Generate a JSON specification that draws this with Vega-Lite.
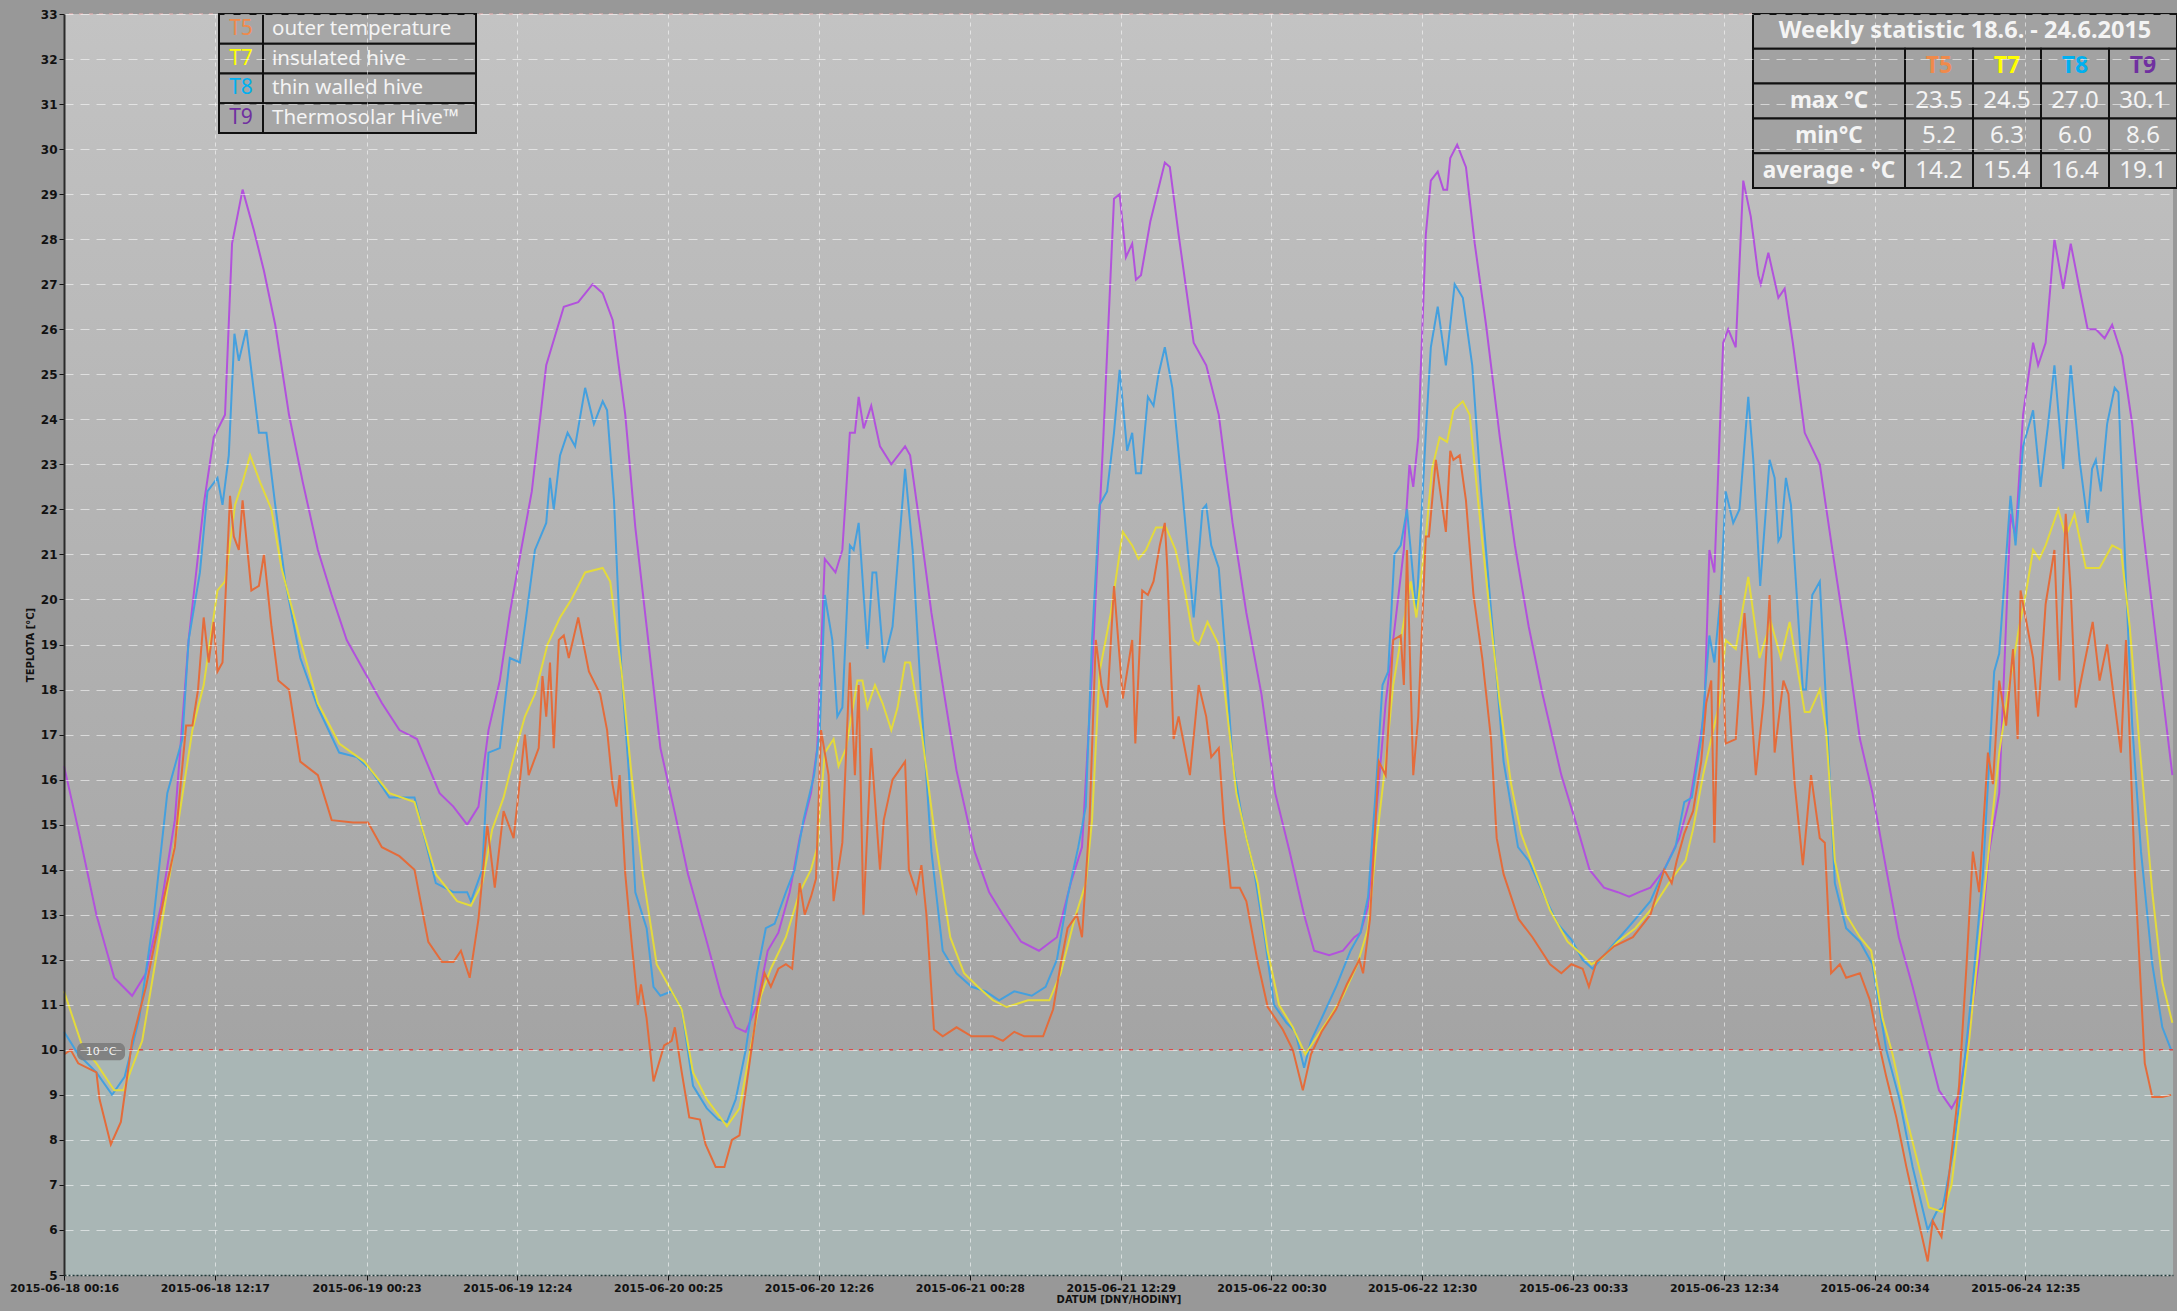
{
  "$schema": "https://vega.github.io/schema/vega-lite/v6.json",
  "width": 2109,
  "height": 1261,
  "autosize": {"type": "none"},
  "padding": {"left": 64, "top": 14, "right": 4, "bottom": 36},
  "background": "#989898",
  "config": {
    "view": {"stroke": null},
    "font": "DejaVu Sans",
    "axis": {
      "labelFont": "DejaVu Sans",
      "labelFontWeight": "bold",
      "labelColor": "#111111",
      "titleFont": "DejaVu Sans",
      "titleFontWeight": "bold",
      "titleColor": "#111111",
      "tickColor": "#111111",
      "domainColor": "#2a2a2a"
    }
  },
  "datasets": {
    "series": [
      {"code": "T5", "name": "outer temperature"},
      {"code": "T7", "name": "insulated hive"},
      {"code": "T8", "name": "thin walled hive"},
      {"code": "T9", "name": "Thermosolar Hive™"}
    ],
    "stats": [
      {"stat": "max °C", "T5": 23.5, "T7": 24.5, "T8": 27.0, "T9": 30.1},
      {"stat": "min°C", "T5": 5.2, "T7": 6.3, "T8": 6.0, "T9": 8.6},
      {"stat": "average · °C", "T5": 14.2, "T7": 15.4, "T8": 16.4, "T9": 19.1}
    ],
    "temps": [
      {"s":"T9","h":0.27,"v":16.3},{"s":"T9","h":1.4,"v":14.9},{"s":"T9","h":2.85,"v":13.0},{"s":"T9","h":4.27,"v":11.6},{"s":"T9","h":5.7,"v":11.2},{"s":"T9","h":6.8,"v":11.7},{"s":"T9","h":8.0,"v":13.2},{"s":"T9","h":9.1,"v":15.1},{"s":"T9","h":10.2,"v":19.1},{"s":"T9","h":11.4,"v":22.1},{"s":"T9","h":12.2,"v":23.6},{"s":"T9","h":13.1,"v":24.1},{"s":"T9","h":13.66,"v":27.9},{"s":"T9","h":14.5,"v":29.1},{"s":"T9","h":15.4,"v":28.2},{"s":"T9","h":16.2,"v":27.3},{"s":"T9","h":17.1,"v":26.1},{"s":"T9","h":18.2,"v":24.1},{"s":"T9","h":19.3,"v":22.6},{"s":"T9","h":20.5,"v":21.1},{"s":"T9","h":21.6,"v":20.1},{"s":"T9","h":22.8,"v":19.1},{"s":"T9","h":24.2,"v":18.4},{"s":"T9","h":25.6,"v":17.7},{"s":"T9","h":27.0,"v":17.1},{"s":"T9","h":28.4,"v":16.9},{"s":"T9","h":30.2,"v":15.7},{"s":"T9","h":31.3,"v":15.4},{"s":"T9","h":32.4,"v":15.0},{"s":"T9","h":33.3,"v":15.4},{"s":"T9","h":34.1,"v":17.1},{"s":"T9","h":35.0,"v":18.2},{"s":"T9","h":35.8,"v":19.7},{"s":"T9","h":36.7,"v":21.1},{"s":"T9","h":37.55,"v":22.4},{"s":"T9","h":38.7,"v":25.2},{"s":"T9","h":40.1,"v":26.5},{"s":"T9","h":41.25,"v":26.6},{"s":"T9","h":42.4,"v":27.0},{"s":"T9","h":43.2,"v":26.8},{"s":"T9","h":44.0,"v":26.2},{"s":"T9","h":45.0,"v":24.1},{"s":"T9","h":45.8,"v":21.6},{"s":"T9","h":46.7,"v":19.4},{"s":"T9","h":47.8,"v":16.7},{"s":"T9","h":49.0,"v":15.2},{"s":"T9","h":50.0,"v":13.9},{"s":"T9","h":50.7,"v":13.2},{"s":"T9","h":51.5,"v":12.4},{"s":"T9","h":52.65,"v":11.2},{"s":"T9","h":53.8,"v":10.5},{"s":"T9","h":54.6,"v":10.4},{"s":"T9","h":55.5,"v":11.0},{"s":"T9","h":56.35,"v":12.2},{"s":"T9","h":57.2,"v":12.6},{"s":"T9","h":58.1,"v":13.5},{"s":"T9","h":58.9,"v":14.7},{"s":"T9","h":59.8,"v":15.7},{"s":"T9","h":60.3,"v":16.7},{"s":"T9","h":60.9,"v":20.9},{"s":"T9","h":61.75,"v":20.6},{"s":"T9","h":62.3,"v":21.1},{"s":"T9","h":62.9,"v":23.7},{"s":"T9","h":63.3,"v":23.7},{"s":"T9","h":63.6,"v":24.5},{"s":"T9","h":64.0,"v":23.8},{"s":"T9","h":64.6,"v":24.3},{"s":"T9","h":65.3,"v":23.4},{"s":"T9","h":66.2,"v":23.0},{"s":"T9","h":67.3,"v":23.4},{"s":"T9","h":67.7,"v":23.2},{"s":"T9","h":68.6,"v":21.4},{"s":"T9","h":69.4,"v":19.7},{"s":"T9","h":70.3,"v":18.1},{"s":"T9","h":71.4,"v":16.2},{"s":"T9","h":72.85,"v":14.4},{"s":"T9","h":74.0,"v":13.5},{"s":"T9","h":75.1,"v":13.0},{"s":"T9","h":76.55,"v":12.4},{"s":"T9","h":77.97,"v":12.2},{"s":"T9","h":79.4,"v":12.5},{"s":"T9","h":80.5,"v":13.7},{"s":"T9","h":81.4,"v":14.5},{"s":"T9","h":82.2,"v":18.4},{"s":"T9","h":83.1,"v":23.6},{"s":"T9","h":83.95,"v":28.9},{"s":"T9","h":84.4,"v":29.0},{"s":"T9","h":84.9,"v":27.6},{"s":"T9","h":85.4,"v":27.9},{"s":"T9","h":85.7,"v":27.1},{"s":"T9","h":86.1,"v":27.2},{"s":"T9","h":86.85,"v":28.4},{"s":"T9","h":88.0,"v":29.7},{"s":"T9","h":88.4,"v":29.6},{"s":"T9","h":89.1,"v":28.1},{"s":"T9","h":90.3,"v":25.7},{"s":"T9","h":91.3,"v":25.2},{"s":"T9","h":92.3,"v":24.1},{"s":"T9","h":93.4,"v":21.7},{"s":"T9","h":94.5,"v":19.7},{"s":"T9","h":95.7,"v":17.9},{"s":"T9","h":96.8,"v":15.7},{"s":"T9","h":97.95,"v":14.4},{"s":"T9","h":99.1,"v":13.0},{"s":"T9","h":99.9,"v":12.2},{"s":"T9","h":101.1,"v":12.1},{"s":"T9","h":102.2,"v":12.2},{"s":"T9","h":103.1,"v":12.5},{"s":"T9","h":103.6,"v":12.6},{"s":"T9","h":104.2,"v":13.2},{"s":"T9","h":104.8,"v":15.1},{"s":"T9","h":105.6,"v":17.7},{"s":"T9","h":106.2,"v":19.1},{"s":"T9","h":107.05,"v":21.1},{"s":"T9","h":107.5,"v":23.0},{"s":"T9","h":107.8,"v":22.5},{"s":"T9","h":108.2,"v":23.6},{"s":"T9","h":108.8,"v":28.1},{"s":"T9","h":109.2,"v":29.3},{"s":"T9","h":109.75,"v":29.5},{"s":"T9","h":110.2,"v":29.1},{"s":"T9","h":110.5,"v":29.1},{"s":"T9","h":110.75,"v":29.8},{"s":"T9","h":111.3,"v":30.1},{"s":"T9","h":112.0,"v":29.6},{"s":"T9","h":112.7,"v":27.9},{"s":"T9","h":113.6,"v":26.1},{"s":"T9","h":114.7,"v":23.6},{"s":"T9","h":115.9,"v":21.2},{"s":"T9","h":117.0,"v":19.4},{"s":"T9","h":118.1,"v":17.9},{"s":"T9","h":119.6,"v":16.1},{"s":"T9","h":120.7,"v":15.1},{"s":"T9","h":121.85,"v":14.0},{"s":"T9","h":123.0,"v":13.6},{"s":"T9","h":124.1,"v":13.5},{"s":"T9","h":125.0,"v":13.4},{"s":"T9","h":125.8,"v":13.5},{"s":"T9","h":126.7,"v":13.6},{"s":"T9","h":127.8,"v":14.0},{"s":"T9","h":129.0,"v":14.7},{"s":"T9","h":129.9,"v":15.6},{"s":"T9","h":130.6,"v":16.8},{"s":"T9","h":131.0,"v":17.5},{"s":"T9","h":131.4,"v":21.1},{"s":"T9","h":131.8,"v":20.6},{"s":"T9","h":132.5,"v":25.7},{"s":"T9","h":132.9,"v":26.0},{"s":"T9","h":133.5,"v":25.6},{"s":"T9","h":134.1,"v":29.3},{"s":"T9","h":134.7,"v":28.5},{"s":"T9","h":135.3,"v":27.2},{"s":"T9","h":135.5,"v":27.0},{"s":"T9","h":136.1,"v":27.7},{"s":"T9","h":136.9,"v":26.7},{"s":"T9","h":137.4,"v":26.9},{"s":"T9","h":138.05,"v":25.7},{"s":"T9","h":139.0,"v":23.7},{"s":"T9","h":140.2,"v":23.0},{"s":"T9","h":141.2,"v":21.1},{"s":"T9","h":142.3,"v":19.1},{"s":"T9","h":143.4,"v":16.9},{"s":"T9","h":144.4,"v":15.7},{"s":"T9","h":145.5,"v":14.0},{"s":"T9","h":146.5,"v":12.5},{"s":"T9","h":147.6,"v":11.4},{"s":"T9","h":148.7,"v":10.2},{"s":"T9","h":149.7,"v":9.1},{"s":"T9","h":150.7,"v":8.7},{"s":"T9","h":151.3,"v":9.0},{"s":"T9","h":152.1,"v":10.4},{"s":"T9","h":152.9,"v":12.0},{"s":"T9","h":153.7,"v":14.4},{"s":"T9","h":154.5,"v":15.7},{"s":"T9","h":155.4,"v":21.9},{"s":"T9","h":155.8,"v":21.4},{"s":"T9","h":156.4,"v":24.1},{"s":"T9","h":157.2,"v":25.7},{"s":"T9","h":157.6,"v":25.2},{"s":"T9","h":158.2,"v":25.7},{"s":"T9","h":158.9,"v":28.0},{"s":"T9","h":159.6,"v":26.9},{"s":"T9","h":160.2,"v":27.9},{"s":"T9","h":160.9,"v":26.9},{"s":"T9","h":161.55,"v":26.0},{"s":"T9","h":162.2,"v":26.0},{"s":"T9","h":162.9,"v":25.8},{"s":"T9","h":163.5,"v":26.1},{"s":"T9","h":164.3,"v":25.4},{"s":"T9","h":165.1,"v":23.9},{"s":"T9","h":165.9,"v":21.7},{"s":"T9","h":167.0,"v":19.1},{"s":"T9","h":168.3,"v":16.1},

      {"s":"T8","h":0.27,"v":10.4},{"s":"T8","h":1.4,"v":9.9},{"s":"T8","h":2.85,"v":9.5},{"s":"T8","h":4.1,"v":9.0},{"s":"T8","h":5.1,"v":9.4},{"s":"T8","h":6.26,"v":10.7},{"s":"T8","h":7.4,"v":12.9},{"s":"T8","h":8.5,"v":15.7},{"s":"T8","h":9.7,"v":16.9},{"s":"T8","h":10.2,"v":19.1},{"s":"T8","h":11.1,"v":20.6},{"s":"T8","h":11.7,"v":22.4},{"s":"T8","h":12.5,"v":22.7},{"s":"T8","h":12.9,"v":22.1},{"s":"T8","h":13.4,"v":23.2},{"s":"T8","h":13.85,"v":25.9},{"s":"T8","h":14.2,"v":25.3},{"s":"T8","h":14.8,"v":26.0},{"s":"T8","h":15.8,"v":23.7},{"s":"T8","h":16.4,"v":23.7},{"s":"T8","h":17.1,"v":22.1},{"s":"T8","h":17.9,"v":20.4},{"s":"T8","h":19.1,"v":18.7},{"s":"T8","h":20.5,"v":17.6},{"s":"T8","h":22.2,"v":16.6},{"s":"T8","h":23.6,"v":16.5},{"s":"T8","h":24.75,"v":16.2},{"s":"T8","h":26.2,"v":15.6},{"s":"T8","h":28.2,"v":15.6},{"s":"T8","h":29.9,"v":13.7},{"s":"T8","h":31.3,"v":13.5},{"s":"T8","h":32.4,"v":13.5},{"s":"T8","h":32.7,"v":13.3},{"s":"T8","h":33.6,"v":14.0},{"s":"T8","h":34.1,"v":16.6},{"s":"T8","h":35.0,"v":16.7},{"s":"T8","h":35.8,"v":18.7},{"s":"T8","h":36.6,"v":18.6},{"s":"T8","h":37.0,"v":19.4},{"s":"T8","h":37.8,"v":21.1},{"s":"T8","h":38.7,"v":21.7},{"s":"T8","h":39.0,"v":22.7},{"s":"T8","h":39.3,"v":22.0},{"s":"T8","h":39.8,"v":23.2},{"s":"T8","h":40.4,"v":23.7},{"s":"T8","h":41.0,"v":23.4},{"s":"T8","h":41.8,"v":24.7},{"s":"T8","h":42.5,"v":23.9},{"s":"T8","h":43.2,"v":24.4},{"s":"T8","h":43.55,"v":24.2},{"s":"T8","h":44.1,"v":22.2},{"s":"T8","h":44.7,"v":18.4},{"s":"T8","h":45.3,"v":16.1},{"s":"T8","h":45.8,"v":13.5},{"s":"T8","h":46.7,"v":12.7},{"s":"T8","h":47.25,"v":11.4},{"s":"T8","h":47.8,"v":11.2},{"s":"T8","h":48.7,"v":11.3},{"s":"T8","h":49.5,"v":10.9},{"s":"T8","h":50.4,"v":9.2},{"s":"T8","h":51.5,"v":8.7},{"s":"T8","h":52.4,"v":8.45},{"s":"T8","h":53.1,"v":8.4},{"s":"T8","h":53.8,"v":8.9},{"s":"T8","h":54.6,"v":10.0},{"s":"T8","h":55.5,"v":11.7},{"s":"T8","h":56.2,"v":12.7},{"s":"T8","h":56.9,"v":12.8},{"s":"T8","h":57.8,"v":13.5},{"s":"T8","h":58.5,"v":14.0},{"s":"T8","h":59.2,"v":15.1},{"s":"T8","h":60.05,"v":16.1},{"s":"T8","h":60.5,"v":17.1},{"s":"T8","h":60.9,"v":20.1},{"s":"T8","h":61.5,"v":19.1},{"s":"T8","h":61.9,"v":17.4},{"s":"T8","h":62.3,"v":17.6},{"s":"T8","h":62.9,"v":21.2},{"s":"T8","h":63.2,"v":21.1},{"s":"T8","h":63.6,"v":21.7},{"s":"T8","h":64.3,"v":18.9},{"s":"T8","h":64.7,"v":20.6},{"s":"T8","h":65.0,"v":20.6},{"s":"T8","h":65.6,"v":18.6},{"s":"T8","h":66.3,"v":19.4},{"s":"T8","h":67.3,"v":22.9},{"s":"T8","h":67.9,"v":21.1},{"s":"T8","h":68.6,"v":17.7},{"s":"T8","h":69.4,"v":14.4},{"s":"T8","h":70.3,"v":12.2},{"s":"T8","h":71.4,"v":11.7},{"s":"T8","h":72.6,"v":11.4},{"s":"T8","h":73.7,"v":11.3},{"s":"T8","h":74.8,"v":11.1},{"s":"T8","h":76.0,"v":11.3},{"s":"T8","h":77.4,"v":11.2},{"s":"T8","h":78.5,"v":11.4},{"s":"T8","h":79.4,"v":12.0},{"s":"T8","h":80.25,"v":13.4},{"s":"T8","h":81.1,"v":14.5},{"s":"T8","h":81.7,"v":15.4},{"s":"T8","h":82.2,"v":19.1},{"s":"T8","h":82.8,"v":22.1},{"s":"T8","h":83.4,"v":22.4},{"s":"T8","h":83.95,"v":23.7},{"s":"T8","h":84.4,"v":25.1},{"s":"T8","h":85.0,"v":23.3},{"s":"T8","h":85.4,"v":23.7},{"s":"T8","h":85.7,"v":22.8},{"s":"T8","h":86.1,"v":22.8},{"s":"T8","h":86.65,"v":24.5},{"s":"T8","h":87.1,"v":24.3},{"s":"T8","h":87.5,"v":25.0},{"s":"T8","h":88.0,"v":25.6},{"s":"T8","h":88.6,"v":24.7},{"s":"T8","h":89.4,"v":22.4},{"s":"T8","h":90.3,"v":19.6},{"s":"T8","h":91.0,"v":22.0},{"s":"T8","h":91.3,"v":22.1},{"s":"T8","h":91.7,"v":21.2},{"s":"T8","h":92.3,"v":20.7},{"s":"T8","h":92.8,"v":18.9},{"s":"T8","h":93.4,"v":16.4},{"s":"T8","h":94.25,"v":15.0},{"s":"T8","h":95.1,"v":14.0},{"s":"T8","h":95.96,"v":12.5},{"s":"T8","h":96.7,"v":11.0},{"s":"T8","h":97.7,"v":10.6},{"s":"T8","h":98.4,"v":10.4},{"s":"T8","h":99.1,"v":9.6},{"s":"T8","h":99.65,"v":10.2},{"s":"T8","h":100.5,"v":10.7},{"s":"T8","h":101.65,"v":11.4},{"s":"T8","h":102.8,"v":12.2},{"s":"T8","h":103.6,"v":12.6},{"s":"T8","h":104.2,"v":13.4},{"s":"T8","h":104.8,"v":15.7},{"s":"T8","h":105.35,"v":18.1},{"s":"T8","h":105.8,"v":18.4},{"s":"T8","h":106.3,"v":21.0},{"s":"T8","h":106.8,"v":21.2},{"s":"T8","h":107.3,"v":22.0},{"s":"T8","h":108.05,"v":19.7},{"s":"T8","h":108.8,"v":23.7},{"s":"T8","h":109.2,"v":25.6},{"s":"T8","h":109.75,"v":26.5},{"s":"T8","h":110.4,"v":25.2},{"s":"T8","h":111.1,"v":27.0},{"s":"T8","h":111.75,"v":26.7},{"s":"T8","h":112.5,"v":25.2},{"s":"T8","h":113.2,"v":22.4},{"s":"T8","h":114.2,"v":19.1},{"s":"T8","h":115.0,"v":16.4},{"s":"T8","h":116.15,"v":14.5},{"s":"T8","h":117.0,"v":14.2},{"s":"T8","h":118.1,"v":13.5},{"s":"T8","h":119.3,"v":12.8},{"s":"T8","h":120.4,"v":12.45},{"s":"T8","h":121.3,"v":12.0},{"s":"T8","h":122.1,"v":11.8},{"s":"T8","h":123.0,"v":12.1},{"s":"T8","h":124.1,"v":12.45},{"s":"T8","h":125.5,"v":12.9},{"s":"T8","h":126.7,"v":13.3},{"s":"T8","h":127.8,"v":14.0},{"s":"T8","h":128.7,"v":14.5},{"s":"T8","h":129.4,"v":15.5},{"s":"T8","h":130.0,"v":15.6},{"s":"T8","h":130.75,"v":16.9},{"s":"T8","h":131.4,"v":19.2},{"s":"T8","h":131.8,"v":18.6},{"s":"T8","h":132.3,"v":20.1},{"s":"T8","h":132.7,"v":22.4},{"s":"T8","h":133.3,"v":21.7},{"s":"T8","h":133.8,"v":22.0},{"s":"T8","h":134.5,"v":24.5},{"s":"T8","h":134.9,"v":23.1},{"s":"T8","h":135.45,"v":20.3},{"s":"T8","h":136.2,"v":23.1},{"s":"T8","h":136.6,"v":22.7},{"s":"T8","h":136.9,"v":21.3},{"s":"T8","h":137.1,"v":21.4},{"s":"T8","h":137.5,"v":22.7},{"s":"T8","h":137.9,"v":22.1},{"s":"T8","h":138.85,"v":18.0},{"s":"T8","h":139.1,"v":18.0},{"s":"T8","h":139.6,"v":20.1},{"s":"T8","h":140.2,"v":20.4},{"s":"T8","h":140.7,"v":17.7},{"s":"T8","h":141.4,"v":13.7},{"s":"T8","h":142.3,"v":12.7},{"s":"T8","h":143.4,"v":12.4},{"s":"T8","h":144.4,"v":11.9},{"s":"T8","h":145.5,"v":10.0},{"s":"T8","h":146.55,"v":8.9},{"s":"T8","h":147.6,"v":7.4},{"s":"T8","h":148.8,"v":6.0},{"s":"T8","h":149.5,"v":6.4},{"s":"T8","h":150.0,"v":6.5},{"s":"T8","h":150.8,"v":7.7},{"s":"T8","h":151.6,"v":9.4},{"s":"T8","h":152.4,"v":11.5},{"s":"T8","h":153.2,"v":13.9},{"s":"T8","h":153.7,"v":16.4},{"s":"T8","h":154.1,"v":18.4},{"s":"T8","h":154.5,"v":18.8},{"s":"T8","h":155.4,"v":22.3},{"s":"T8","h":155.8,"v":21.2},{"s":"T8","h":156.4,"v":23.4},{"s":"T8","h":157.2,"v":24.2},{"s":"T8","h":157.8,"v":22.5},{"s":"T8","h":158.4,"v":23.9},{"s":"T8","h":158.9,"v":25.2},{"s":"T8","h":159.6,"v":22.9},{"s":"T8","h":160.2,"v":25.2},{"s":"T8","h":160.9,"v":23.1},{"s":"T8","h":161.55,"v":21.7},{"s":"T8","h":161.9,"v":22.9},{"s":"T8","h":162.2,"v":23.1},{"s":"T8","h":162.6,"v":22.4},{"s":"T8","h":163.1,"v":23.9},{"s":"T8","h":163.7,"v":24.7},{"s":"T8","h":164.0,"v":24.6},{"s":"T8","h":164.6,"v":20.4},{"s":"T8","h":165.1,"v":17.2},{"s":"T8","h":165.8,"v":14.4},{"s":"T8","h":166.7,"v":11.9},{"s":"T8","h":167.5,"v":10.5},{"s":"T8","h":168.2,"v":10.0},

      {"s":"T7","h":0.27,"v":11.3},{"s":"T7","h":1.7,"v":10.1},{"s":"T7","h":2.85,"v":9.7},{"s":"T7","h":4.27,"v":9.1},{"s":"T7","h":5.0,"v":9.1},{"s":"T7","h":6.5,"v":10.2},{"s":"T7","h":8.0,"v":12.7},{"s":"T7","h":9.4,"v":15.1},{"s":"T7","h":10.5,"v":17.1},{"s":"T7","h":11.4,"v":18.1},{"s":"T7","h":12.5,"v":20.2},{"s":"T7","h":13.1,"v":20.4},{"s":"T7","h":13.9,"v":22.1},{"s":"T7","h":14.5,"v":22.6},{"s":"T7","h":15.1,"v":23.2},{"s":"T7","h":15.9,"v":22.6},{"s":"T7","h":16.8,"v":22.0},{"s":"T7","h":17.6,"v":20.7},{"s":"T7","h":19.1,"v":19.1},{"s":"T7","h":20.5,"v":17.7},{"s":"T7","h":22.2,"v":16.8},{"s":"T7","h":24.2,"v":16.4},{"s":"T7","h":26.2,"v":15.7},{"s":"T7","h":28.2,"v":15.5},{"s":"T7","h":29.9,"v":13.9},{"s":"T7","h":31.6,"v":13.3},{"s":"T7","h":32.7,"v":13.2},{"s":"T7","h":33.6,"v":13.7},{"s":"T7","h":34.4,"v":14.9},{"s":"T7","h":35.3,"v":15.6},{"s":"T7","h":36.3,"v":16.7},{"s":"T7","h":37.0,"v":17.4},{"s":"T7","h":37.8,"v":17.9},{"s":"T7","h":38.8,"v":19.0},{"s":"T7","h":39.8,"v":19.6},{"s":"T7","h":40.7,"v":20.0},{"s":"T7","h":41.8,"v":20.6},{"s":"T7","h":43.2,"v":20.7},{"s":"T7","h":43.8,"v":20.4},{"s":"T7","h":44.7,"v":18.4},{"s":"T7","h":45.5,"v":16.1},{"s":"T7","h":46.4,"v":13.9},{"s":"T7","h":47.5,"v":11.9},{"s":"T7","h":48.7,"v":11.3},{"s":"T7","h":49.5,"v":10.9},{"s":"T7","h":50.4,"v":9.5},{"s":"T7","h":51.5,"v":8.9},{"s":"T7","h":53.1,"v":8.3},{"s":"T7","h":54.1,"v":8.7},{"s":"T7","h":54.9,"v":9.9},{"s":"T7","h":55.8,"v":11.2},{"s":"T7","h":56.6,"v":11.8},{"s":"T7","h":57.8,"v":12.5},{"s":"T7","h":58.9,"v":13.5},{"s":"T7","h":59.8,"v":14.0},{"s":"T7","h":60.3,"v":14.5},{"s":"T7","h":60.9,"v":16.6},{"s":"T7","h":61.6,"v":16.9},{"s":"T7","h":62.0,"v":16.3},{"s":"T7","h":62.6,"v":16.7},{"s":"T7","h":63.5,"v":18.2},{"s":"T7","h":63.9,"v":18.2},{"s":"T7","h":64.3,"v":17.6},{"s":"T7","h":64.9,"v":18.1},{"s":"T7","h":65.5,"v":17.7},{"s":"T7","h":66.2,"v":17.1},{"s":"T7","h":66.7,"v":17.6},{"s":"T7","h":67.3,"v":18.6},{"s":"T7","h":67.7,"v":18.6},{"s":"T7","h":68.6,"v":17.1},{"s":"T7","h":69.7,"v":14.7},{"s":"T7","h":70.9,"v":12.5},{"s":"T7","h":72.0,"v":11.7},{"s":"T7","h":73.1,"v":11.4},{"s":"T7","h":74.3,"v":11.1},{"s":"T7","h":75.4,"v":10.95},{"s":"T7","h":77.1,"v":11.1},{"s":"T7","h":78.8,"v":11.1},{"s":"T7","h":79.7,"v":11.7},{"s":"T7","h":80.8,"v":12.9},{"s":"T7","h":81.7,"v":13.7},{"s":"T7","h":82.2,"v":15.1},{"s":"T7","h":82.8,"v":18.4},{"s":"T7","h":83.7,"v":19.7},{"s":"T7","h":84.65,"v":21.5},{"s":"T7","h":85.4,"v":21.2},{"s":"T7","h":85.9,"v":20.9},{"s":"T7","h":86.5,"v":21.1},{"s":"T7","h":87.3,"v":21.6},{"s":"T7","h":88.1,"v":21.6},{"s":"T7","h":88.85,"v":21.1},{"s":"T7","h":89.6,"v":20.2},{"s":"T7","h":90.3,"v":19.1},{"s":"T7","h":90.7,"v":19.0},{"s":"T7","h":91.4,"v":19.5},{"s":"T7","h":92.3,"v":19.0},{"s":"T7","h":92.8,"v":17.9},{"s":"T7","h":93.7,"v":15.7},{"s":"T7","h":94.5,"v":14.7},{"s":"T7","h":95.4,"v":13.7},{"s":"T7","h":96.2,"v":12.2},{"s":"T7","h":97.1,"v":11.0},{"s":"T7","h":98.2,"v":10.5},{"s":"T7","h":99.2,"v":9.9},{"s":"T7","h":99.9,"v":10.2},{"s":"T7","h":101.1,"v":10.7},{"s":"T7","h":102.2,"v":11.2},{"s":"T7","h":103.35,"v":11.9},{"s":"T7","h":104.2,"v":12.7},{"s":"T7","h":104.9,"v":14.7},{"s":"T7","h":105.6,"v":16.4},{"s":"T7","h":106.2,"v":18.1},{"s":"T7","h":106.8,"v":19.1},{"s":"T7","h":107.6,"v":20.4},{"s":"T7","h":108.05,"v":19.6},{"s":"T7","h":108.8,"v":21.4},{"s":"T7","h":109.3,"v":22.9},{"s":"T7","h":109.9,"v":23.6},{"s":"T7","h":110.5,"v":23.5},{"s":"T7","h":111.0,"v":24.2},{"s":"T7","h":111.75,"v":24.4},{"s":"T7","h":112.3,"v":24.1},{"s":"T7","h":113.0,"v":22.1},{"s":"T7","h":113.9,"v":19.7},{"s":"T7","h":114.7,"v":17.7},{"s":"T7","h":115.6,"v":15.9},{"s":"T7","h":116.4,"v":14.8},{"s":"T7","h":117.6,"v":13.9},{"s":"T7","h":118.7,"v":13.1},{"s":"T7","h":120.1,"v":12.4},{"s":"T7","h":121.3,"v":12.1},{"s":"T7","h":122.0,"v":11.9},{"s":"T7","h":122.7,"v":12.0},{"s":"T7","h":124.1,"v":12.4},{"s":"T7","h":125.5,"v":12.7},{"s":"T7","h":127.0,"v":13.2},{"s":"T7","h":128.4,"v":13.8},{"s":"T7","h":129.5,"v":14.2},{"s":"T7","h":130.1,"v":14.9},{"s":"T7","h":130.9,"v":16.1},{"s":"T7","h":131.55,"v":16.9},{"s":"T7","h":132.2,"v":17.7},{"s":"T7","h":132.7,"v":19.1},{"s":"T7","h":133.5,"v":18.9},{"s":"T7","h":134.5,"v":20.5},{"s":"T7","h":135.4,"v":18.7},{"s":"T7","h":136.3,"v":19.5},{"s":"T7","h":137.1,"v":18.7},{"s":"T7","h":137.8,"v":19.5},{"s":"T7","h":139.0,"v":17.5},{"s":"T7","h":139.4,"v":17.5},{"s":"T7","h":140.2,"v":18.0},{"s":"T7","h":140.7,"v":17.1},{"s":"T7","h":141.4,"v":14.2},{"s":"T7","h":142.3,"v":13.0},{"s":"T7","h":143.4,"v":12.5},{"s":"T7","h":144.3,"v":12.2},{"s":"T7","h":145.2,"v":10.7},{"s":"T7","h":146.0,"v":9.9},{"s":"T7","h":147.1,"v":8.5},{"s":"T7","h":148.1,"v":7.4},{"s":"T7","h":148.9,"v":6.5},{"s":"T7","h":150.0,"v":6.4},{"s":"T7","h":150.7,"v":7.0},{"s":"T7","h":151.3,"v":8.4},{"s":"T7","h":152.1,"v":10.2},{"s":"T7","h":152.9,"v":12.4},{"s":"T7","h":153.7,"v":14.5},{"s":"T7","h":154.5,"v":16.6},{"s":"T7","h":155.3,"v":18.1},{"s":"T7","h":156.1,"v":19.4},{"s":"T7","h":156.6,"v":20.1},{"s":"T7","h":157.2,"v":21.1},{"s":"T7","h":157.7,"v":20.9},{"s":"T7","h":158.2,"v":21.2},{"s":"T7","h":159.2,"v":22.0},{"s":"T7","h":159.8,"v":21.4},{"s":"T7","h":160.5,"v":21.9},{"s":"T7","h":161.4,"v":20.7},{"s":"T7","h":162.5,"v":20.7},{"s":"T7","h":163.5,"v":21.2},{"s":"T7","h":164.2,"v":21.1},{"s":"T7","h":164.9,"v":19.4},{"s":"T7","h":165.7,"v":16.7},{"s":"T7","h":166.7,"v":13.5},{"s":"T7","h":167.5,"v":11.5},{"s":"T7","h":168.3,"v":10.6},

      {"s":"T5","h":0.27,"v":9.9},{"s":"T5","h":0.8,"v":10.0},{"s":"T5","h":1.4,"v":9.7},{"s":"T5","h":2.85,"v":9.5},{"s":"T5","h":3.1,"v":8.9},{"s":"T5","h":4.0,"v":7.9},{"s":"T5","h":4.8,"v":8.4},{"s":"T5","h":5.7,"v":10.2},{"s":"T5","h":6.8,"v":11.4},{"s":"T5","h":8.25,"v":13.4},{"s":"T5","h":9.1,"v":14.5},{"s":"T5","h":10.0,"v":17.2},{"s":"T5","h":10.5,"v":17.2},{"s":"T5","h":10.95,"v":18.0},{"s":"T5","h":11.4,"v":19.6},{"s":"T5","h":11.8,"v":18.6},{"s":"T5","h":12.2,"v":19.5},{"s":"T5","h":12.5,"v":18.4},{"s":"T5","h":12.9,"v":18.6},{"s":"T5","h":13.5,"v":22.3},{"s":"T5","h":13.8,"v":21.4},{"s":"T5","h":14.2,"v":21.1},{"s":"T5","h":14.5,"v":22.2},{"s":"T5","h":15.2,"v":20.2},{"s":"T5","h":15.8,"v":20.3},{"s":"T5","h":16.2,"v":21.0},{"s":"T5","h":16.8,"v":19.4},{"s":"T5","h":17.35,"v":18.2},{"s":"T5","h":18.2,"v":18.0},{"s":"T5","h":19.1,"v":16.4},{"s":"T5","h":20.5,"v":16.1},{"s":"T5","h":21.6,"v":15.1},{"s":"T5","h":23.3,"v":15.05},{"s":"T5","h":24.5,"v":15.05},{"s":"T5","h":25.6,"v":14.5},{"s":"T5","h":27.0,"v":14.3},{"s":"T5","h":28.2,"v":14.0},{"s":"T5","h":29.3,"v":12.4},{"s":"T5","h":30.4,"v":11.95},{"s":"T5","h":31.3,"v":11.95},{"s":"T5","h":31.9,"v":12.2},{"s":"T5","h":32.6,"v":11.6},{"s":"T5","h":33.3,"v":12.9},{"s":"T5","h":34.0,"v":15.0},{"s":"T5","h":34.6,"v":13.6},{"s":"T5","h":35.3,"v":15.3},{"s":"T5","h":36.1,"v":14.7},{"s":"T5","h":37.0,"v":17.0},{"s":"T5","h":37.3,"v":16.1},{"s":"T5","h":38.1,"v":16.7},{"s":"T5","h":38.4,"v":18.3},{"s":"T5","h":38.7,"v":17.4},{"s":"T5","h":39.0,"v":18.6},{"s":"T5","h":39.3,"v":16.7},{"s":"T5","h":39.7,"v":19.1},{"s":"T5","h":40.1,"v":19.2},{"s":"T5","h":40.5,"v":18.7},{"s":"T5","h":41.25,"v":19.6},{"s":"T5","h":42.1,"v":18.4},{"s":"T5","h":43.0,"v":17.9},{"s":"T5","h":43.55,"v":17.1},{"s":"T5","h":43.98,"v":15.9},{"s":"T5","h":44.3,"v":15.4},{"s":"T5","h":44.55,"v":16.1},{"s":"T5","h":45.0,"v":13.9},{"s":"T5","h":45.5,"v":12.4},{"s":"T5","h":46.0,"v":11.0},{"s":"T5","h":46.25,"v":11.45},{"s":"T5","h":46.7,"v":10.7},{"s":"T5","h":47.25,"v":9.3},{"s":"T5","h":48.1,"v":10.1},{"s":"T5","h":48.7,"v":10.2},{"s":"T5","h":48.95,"v":10.5},{"s":"T5","h":49.5,"v":9.5},{"s":"T5","h":50.1,"v":8.5},{"s":"T5","h":50.95,"v":8.45},{"s":"T5","h":51.4,"v":7.9},{"s":"T5","h":52.2,"v":7.4},{"s":"T5","h":52.9,"v":7.4},{"s":"T5","h":53.5,"v":8.0},{"s":"T5","h":54.1,"v":8.1},{"s":"T5","h":54.9,"v":9.7},{"s":"T5","h":55.5,"v":10.9},{"s":"T5","h":56.1,"v":11.7},{"s":"T5","h":56.6,"v":11.4},{"s":"T5","h":57.2,"v":11.8},{"s":"T5","h":57.8,"v":11.9},{"s":"T5","h":58.3,"v":11.8},{"s":"T5","h":58.9,"v":13.7},{"s":"T5","h":59.3,"v":13.0},{"s":"T5","h":59.8,"v":13.4},{"s":"T5","h":60.2,"v":13.8},{"s":"T5","h":60.6,"v":17.1},{"s":"T5","h":61.2,"v":16.1},{"s":"T5","h":61.6,"v":13.3},{"s":"T5","h":62.3,"v":14.6},{"s":"T5","h":62.9,"v":18.6},{"s":"T5","h":63.3,"v":16.1},{"s":"T5","h":63.6,"v":18.1},{"s":"T5","h":63.98,"v":13.0},{"s":"T5","h":64.6,"v":16.7},{"s":"T5","h":65.3,"v":14.0},{"s":"T5","h":65.6,"v":15.1},{"s":"T5","h":66.3,"v":16.0},{"s":"T5","h":67.3,"v":16.4},{"s":"T5","h":67.6,"v":14.0},{"s":"T5","h":68.2,"v":13.5},{"s":"T5","h":68.6,"v":14.1},{"s":"T5","h":69.0,"v":13.0},{"s":"T5","h":69.6,"v":10.45},{"s":"T5","h":70.3,"v":10.3},{"s":"T5","h":71.4,"v":10.5},{"s":"T5","h":72.6,"v":10.3},{"s":"T5","h":74.3,"v":10.3},{"s":"T5","h":75.1,"v":10.2},{"s":"T5","h":76.0,"v":10.4},{"s":"T5","h":76.8,"v":10.3},{"s":"T5","h":78.3,"v":10.3},{"s":"T5","h":79.1,"v":10.9},{"s":"T5","h":79.7,"v":11.9},{"s":"T5","h":80.25,"v":12.7},{"s":"T5","h":81.0,"v":13.0},{"s":"T5","h":81.4,"v":12.5},{"s":"T5","h":82.0,"v":15.1},{"s":"T5","h":82.5,"v":19.1},{"s":"T5","h":82.95,"v":18.1},{"s":"T5","h":83.4,"v":17.6},{"s":"T5","h":83.95,"v":20.3},{"s":"T5","h":84.65,"v":17.8},{"s":"T5","h":85.4,"v":19.1},{"s":"T5","h":85.65,"v":16.8},{"s":"T5","h":86.2,"v":20.2},{"s":"T5","h":86.65,"v":20.1},{"s":"T5","h":87.1,"v":20.4},{"s":"T5","h":87.6,"v":21.2},{"s":"T5","h":88.0,"v":21.7},{"s":"T5","h":88.2,"v":20.7},{"s":"T5","h":88.7,"v":16.9},{"s":"T5","h":89.1,"v":17.4},{"s":"T5","h":90.0,"v":16.1},{"s":"T5","h":90.7,"v":18.1},{"s":"T5","h":91.3,"v":17.4},{"s":"T5","h":91.7,"v":16.5},{"s":"T5","h":92.3,"v":16.7},{"s":"T5","h":92.7,"v":15.1},{"s":"T5","h":93.25,"v":13.6},{"s":"T5","h":93.97,"v":13.6},{"s":"T5","h":94.5,"v":13.3},{"s":"T5","h":95.4,"v":11.95},{"s":"T5","h":96.2,"v":10.95},{"s":"T5","h":97.4,"v":10.45},{"s":"T5","h":98.2,"v":10.0},{"s":"T5","h":99.0,"v":9.1},{"s":"T5","h":99.65,"v":9.9},{"s":"T5","h":100.5,"v":10.4},{"s":"T5","h":101.65,"v":10.9},{"s":"T5","h":102.5,"v":11.45},{"s":"T5","h":103.5,"v":12.0},{"s":"T5","h":103.8,"v":11.7},{"s":"T5","h":104.35,"v":12.9},{"s":"T5","h":105.06,"v":16.4},{"s":"T5","h":105.6,"v":16.1},{"s":"T5","h":106.2,"v":19.1},{"s":"T5","h":106.8,"v":19.2},{"s":"T5","h":107.05,"v":18.1},{"s":"T5","h":107.3,"v":21.1},{"s":"T5","h":107.8,"v":16.1},{"s":"T5","h":108.2,"v":17.4},{"s":"T5","h":108.8,"v":21.4},{"s":"T5","h":109.05,"v":21.4},{"s":"T5","h":109.6,"v":23.1},{"s":"T5","h":110.4,"v":21.5},{"s":"T5","h":110.75,"v":23.3},{"s":"T5","h":111.0,"v":23.1},{"s":"T5","h":111.5,"v":23.2},{"s":"T5","h":112.0,"v":22.2},{"s":"T5","h":112.6,"v":20.1},{"s":"T5","h":113.3,"v":18.7},{"s":"T5","h":114.0,"v":16.9},{"s":"T5","h":114.45,"v":14.7},{"s":"T5","h":115.0,"v":13.9},{"s":"T5","h":116.2,"v":12.9},{"s":"T5","h":117.3,"v":12.5},{"s":"T5","h":118.7,"v":11.9},{"s":"T5","h":119.6,"v":11.7},{"s":"T5","h":120.4,"v":11.9},{"s":"T5","h":121.3,"v":11.8},{"s":"T5","h":121.8,"v":11.4},{"s":"T5","h":122.4,"v":11.95},{"s":"T5","h":123.8,"v":12.3},{"s":"T5","h":125.3,"v":12.5},{"s":"T5","h":126.7,"v":13.0},{"s":"T5","h":127.8,"v":14.0},{"s":"T5","h":128.4,"v":13.7},{"s":"T5","h":128.8,"v":14.2},{"s":"T5","h":129.4,"v":14.8},{"s":"T5","h":130.1,"v":15.3},{"s":"T5","h":130.75,"v":16.4},{"s":"T5","h":131.15,"v":17.7},{"s":"T5","h":131.55,"v":18.2},{"s":"T5","h":131.8,"v":14.6},{"s":"T5","h":132.3,"v":20.1},{"s":"T5","h":132.7,"v":16.8},{"s":"T5","h":133.5,"v":16.9},{"s":"T5","h":134.2,"v":19.7},{"s":"T5","h":134.6,"v":18.2},{"s":"T5","h":135.1,"v":16.1},{"s":"T5","h":135.7,"v":17.7},{"s":"T5","h":136.2,"v":20.1},{"s":"T5","h":136.6,"v":16.6},{"s":"T5","h":137.3,"v":18.2},{"s":"T5","h":137.7,"v":17.9},{"s":"T5","h":138.2,"v":15.9},{"s":"T5","h":138.85,"v":14.1},{"s":"T5","h":139.5,"v":16.1},{"s":"T5","h":140.2,"v":14.7},{"s":"T5","h":140.6,"v":14.6},{"s":"T5","h":141.1,"v":11.7},{"s":"T5","h":141.8,"v":11.9},{"s":"T5","h":142.3,"v":11.6},{"s":"T5","h":143.4,"v":11.7},{"s":"T5","h":144.2,"v":11.1},{"s":"T5","h":144.7,"v":10.4},{"s":"T5","h":145.5,"v":9.4},{"s":"T5","h":146.3,"v":8.5},{"s":"T5","h":147.1,"v":7.4},{"s":"T5","h":147.9,"v":6.4},{"s":"T5","h":148.8,"v":5.3},{"s":"T5","h":149.2,"v":6.2},{"s":"T5","h":149.9,"v":5.85},{"s":"T5","h":150.5,"v":7.2},{"s":"T5","h":151.3,"v":9.2},{"s":"T5","h":151.9,"v":11.9},{"s":"T5","h":152.4,"v":14.4},{"s":"T5","h":152.9,"v":13.5},{"s":"T5","h":153.6,"v":16.6},{"s":"T5","h":154.0,"v":15.9},{"s":"T5","h":154.5,"v":18.2},{"s":"T5","h":155.05,"v":17.2},{"s":"T5","h":155.6,"v":18.9},{"s":"T5","h":155.97,"v":16.9},{"s":"T5","h":156.2,"v":20.2},{"s":"T5","h":156.6,"v":19.6},{"s":"T5","h":157.2,"v":18.7},{"s":"T5","h":157.6,"v":17.4},{"s":"T5","h":158.2,"v":19.9},{"s":"T5","h":158.9,"v":21.1},{"s":"T5","h":159.3,"v":18.2},{"s":"T5","h":159.8,"v":21.9},{"s":"T5","h":160.2,"v":20.2},{"s":"T5","h":160.6,"v":17.6},{"s":"T5","h":161.3,"v":18.6},{"s":"T5","h":161.95,"v":19.5},{"s":"T5","h":162.5,"v":18.2},{"s":"T5","h":163.1,"v":19.0},{"s":"T5","h":164.2,"v":16.6},{"s":"T5","h":164.6,"v":19.1},{"s":"T5","h":165.3,"v":14.0},{"s":"T5","h":166.1,"v":9.7},{"s":"T5","h":166.7,"v":8.95},{"s":"T5","h":167.5,"v":8.95},{"s":"T5","h":168.2,"v":9.0}
    ]
  },
  "layer": [
    {
      "layer": [
        {
          "data": {"values": [{"zone": "above 10 °C"}]},
          "mark": {"type": "rect", "fill": {"gradient": "linear", "x1": 0, "y1": 0, "x2": 0, "y2": 1, "stops": [{"offset": 0, "color": "#c3c3c3"}, {"offset": 1, "color": "#a4a4a4"}]}},
          "encoding": {"y": {"datum": 10, "type": "quantitative"}, "y2": {"datum": 33}}
        },
        {
          "data": {"values": [{"zone": "below 10 °C"}]},
          "mark": {"type": "rect", "fill": "#a9b6b5"},
          "encoding": {"y": {"datum": 5, "type": "quantitative"}, "y2": {"datum": 10}}
        },
        {
          "data": {"name": "temps"},
          "mark": {"type": "line", "strokeWidth": 2},
          "encoding": {
            "x": {
              "field": "h", "type": "quantitative",
              "scale": {"domain": [0.267, 168.35], "nice": false, "zero": false},
              "axis": {
                "title": "DATUM [DNY/HODINY]",
                "values": [0.267, 12.284, 24.384, 36.401, 48.417, 60.434, 72.467, 84.484, 96.501, 108.501, 120.551, 132.567, 144.567, 156.584],
                "labelExpr": "utcFormat(1434585600000 + datum.value * 3600000, '%Y-%m-%d %H:%M')",
                "labelFontSize": 11, "labelPadding": 2, "labelFlush": false, "labelOverlap": false,
                "tickSize": 5, "titleFontSize": 10, "titlePadding": 1,
                "domainDash": [2, 2], "domainColor": "#1e3a3a", "domainWidth": 1.5,
                "grid": true, "gridColor": "#ffffff", "gridOpacity": 0.55, "gridDash": [4, 4], "gridWidth": 1,
                "zindex": 1
              }
            },
            "y": {
              "field": "v", "type": "quantitative",
              "scale": {"domain": [5, 33], "nice": false, "zero": false},
              "axis": {
                "title": "TEPLOTA [°C]",
                "values": [5,6,7,8,9,10,11,12,13,14,15,16,17,18,19,20,21,22,23,24,25,26,27,28,29,30,31,32,33],
                "labelFontSize": 12, "labelPadding": 2, "tickSize": 5,
                "titleFontSize": 10, "titlePadding": 5,
                "domainWidth": 2, "domainColor": "#2a2a2a",
                "grid": true, "gridColor": "#ffffff", "gridOpacity": 0.55, "gridDash": [9, 7], "gridWidth": 1,
                "zindex": 1
              }
            },
            "color": {
              "field": "s", "type": "nominal",
              "scale": {"domain": ["T5", "T7", "T8", "T9"], "range": ["#e46c3b", "#e3da3c", "#45a0de", "#b252dc"]},
              "legend": null
            }
          }
        },
        {
          "data": {"values": [{"limit": "10 °C"}]},
          "mark": {"type": "rule", "color": "#e04848", "strokeDash": [4, 6], "strokeWidth": 1.5},
          "encoding": {"y": {"datum": 10, "type": "quantitative"}}
        },
        {
          "data": {"values": [{"limit": "33 °C"}]},
          "mark": {"type": "rule", "color": "#f0b0b0", "strokeDash": [4, 6], "strokeWidth": 1.2},
          "encoding": {"y": {"datum": 33, "type": "quantitative"}}
        },
        {
          "data": {"values": [{"label": "10 °C"}]},
          "mark": {"type": "rect", "fill": "#7c7c7c", "cornerRadius": 6, "opacity": 0.9},
          "encoding": {
            "x": {"datum": 1.31, "type": "quantitative"}, "x2": {"datum": 5.13},
            "y": {"datum": 9.77, "type": "quantitative"}, "y2": {"datum": 10.15}
          }
        },
        {
          "data": {"values": [{"label": "10 °C"}]},
          "mark": {"type": "text", "color": "#f2f2f2", "fontSize": 11, "font": "DejaVu Sans", "align": "center", "baseline": "middle"},
          "encoding": {
            "x": {"datum": 3.22, "type": "quantitative"},
            "y": {"datum": 9.96, "type": "quantitative"},
            "text": {"field": "label"}
          }
        }
      ]
    },
    {
      "data": {"name": "series"},
      "mark": {"type": "rect", "fill": "#a6a6a6", "stroke": "#111111", "strokeWidth": 2},
      "encoding": {
        "x": {"datum": "code", "type": "nominal", "scale": {"type": "band", "domain": ["code"], "range": [155, 199], "paddingInner": 0, "paddingOuter": 0}, "axis": null},
        "y": {"field": "code", "type": "nominal", "scale": {"type": "band", "domain": ["T5", "T7", "T8", "T9"], "range": [0, 119], "paddingInner": 0, "paddingOuter": 0}, "axis": null}
      }
    },
    {
      "data": {"name": "series"},
      "mark": {"type": "rect", "fill": "#a6a6a6", "stroke": "#111111", "strokeWidth": 2},
      "encoding": {
        "x": {"datum": "name", "type": "nominal", "scale": {"type": "band", "domain": ["name"], "range": [199, 412], "paddingInner": 0, "paddingOuter": 0}, "axis": null},
        "y": {"field": "code", "type": "nominal", "scale": {"type": "band", "domain": ["T5", "T7", "T8", "T9"], "range": [0, 119], "paddingInner": 0, "paddingOuter": 0}, "axis": null}
      }
    },
    {
      "data": {"name": "series"},
      "mark": {"type": "text", "font": "Noto Sans", "fontSize": 21, "align": "center", "baseline": "middle"},
      "encoding": {
        "x": {"datum": "code", "type": "nominal", "scale": {"type": "band", "domain": ["code"], "range": [155, 199], "paddingInner": 0, "paddingOuter": 0}, "axis": null},
        "y": {"field": "code", "type": "nominal", "scale": {"type": "band", "domain": ["T5", "T7", "T8", "T9"], "range": [0, 119], "paddingInner": 0, "paddingOuter": 0}, "axis": null},
        "text": {"field": "code"},
        "color": {"field": "code", "type": "nominal", "scale": {"domain": ["T5", "T7", "T8", "T9"], "range": ["#f08a4b", "#ffff00", "#00b0f0", "#7030a0"]}, "legend": null}
      }
    },
    {
      "data": {"name": "series"},
      "mark": {"type": "text", "font": "Noto Sans", "fontSize": 20.5, "align": "left", "baseline": "middle", "color": "#f4f4f4", "dx": 9},
      "encoding": {
        "x": {"datum": "name", "type": "nominal", "bandPosition": 0, "scale": {"type": "band", "domain": ["name"], "range": [199, 412], "paddingInner": 0, "paddingOuter": 0}, "axis": null},
        "y": {"field": "code", "type": "nominal", "scale": {"type": "band", "domain": ["T5", "T7", "T8", "T9"], "range": [0, 119], "paddingInner": 0, "paddingOuter": 0}, "axis": null},
        "text": {"field": "name"}
      }
    },
    {
      "data": {"values": [{"title": "Weekly statistic 18.6. - 24.6.2015"}]},
      "mark": {"type": "rect", "fill": "#a2a2a2", "stroke": "#111111", "strokeWidth": 2},
      "encoding": {
        "x": {"datum": "all", "type": "nominal", "scale": {"type": "band", "domain": ["all"], "range": [1689, 2113], "paddingInner": 0, "paddingOuter": 0}, "axis": null},
        "y": {"datum": "title", "type": "nominal", "scale": {"type": "band", "domain": ["title", "head", "max °C", "min°C", "average · °C"], "range": [0, 174], "paddingInner": 0, "paddingOuter": 0}, "axis": null}
      }
    },
    {
      "data": {"values": [{"title": "Weekly statistic 18.6. - 24.6.2015"}]},
      "mark": {"type": "text", "font": "Noto Sans", "fontWeight": "bold", "fontSize": 23.5, "color": "#f4f4f4", "align": "center", "baseline": "middle"},
      "encoding": {
        "x": {"datum": "all", "type": "nominal", "scale": {"type": "band", "domain": ["all"], "range": [1689, 2113], "paddingInner": 0, "paddingOuter": 0}, "axis": null},
        "y": {"datum": "title", "type": "nominal", "scale": {"type": "band", "domain": ["title", "head", "max °C", "min°C", "average · °C"], "range": [0, 174], "paddingInner": 0, "paddingOuter": 0}, "axis": null},
        "text": {"field": "title"}
      }
    },
    {
      "data": {"values": [{"cell": "corner"}]},
      "mark": {"type": "rect", "fill": "#a2a2a2", "stroke": "#111111", "strokeWidth": 2},
      "encoding": {
        "x": {"datum": "label", "type": "nominal", "scale": {"type": "band", "domain": ["label"], "range": [1689, 1841], "paddingInner": 0, "paddingOuter": 0}, "axis": null},
        "y": {"datum": "head", "type": "nominal", "scale": {"type": "band", "domain": ["title", "head", "max °C", "min°C", "average · °C"], "range": [0, 174], "paddingInner": 0, "paddingOuter": 0}, "axis": null}
      }
    },
    {
      "data": {"name": "series"},
      "mark": {"type": "rect", "fill": "#a2a2a2", "stroke": "#111111", "strokeWidth": 2},
      "encoding": {
        "x": {"field": "code", "type": "nominal", "scale": {"type": "band", "domain": ["T5", "T7", "T8", "T9"], "range": [1841, 2113], "paddingInner": 0, "paddingOuter": 0}, "axis": null},
        "y": {"datum": "head", "type": "nominal", "scale": {"type": "band", "domain": ["title", "head", "max °C", "min°C", "average · °C"], "range": [0, 174], "paddingInner": 0, "paddingOuter": 0}, "axis": null}
      }
    },
    {
      "data": {"name": "series"},
      "mark": {"type": "text", "font": "Noto Sans", "fontWeight": "bold", "fontSize": 23, "align": "center", "baseline": "middle"},
      "encoding": {
        "x": {"field": "code", "type": "nominal", "scale": {"type": "band", "domain": ["T5", "T7", "T8", "T9"], "range": [1841, 2113], "paddingInner": 0, "paddingOuter": 0}, "axis": null},
        "y": {"datum": "head", "type": "nominal", "scale": {"type": "band", "domain": ["title", "head", "max °C", "min°C", "average · °C"], "range": [0, 174], "paddingInner": 0, "paddingOuter": 0}, "axis": null},
        "text": {"field": "code"},
        "color": {"field": "code", "type": "nominal", "scale": {"domain": ["T5", "T7", "T8", "T9"], "range": ["#f08a4b", "#ffff00", "#00b0f0", "#7030a0"]}, "legend": null}
      }
    },
    {
      "data": {"name": "stats"},
      "mark": {"type": "rect", "fill": "#a2a2a2", "stroke": "#111111", "strokeWidth": 2},
      "encoding": {
        "x": {"datum": "label", "type": "nominal", "scale": {"type": "band", "domain": ["label"], "range": [1689, 1841], "paddingInner": 0, "paddingOuter": 0}, "axis": null},
        "y": {"field": "stat", "type": "nominal", "scale": {"type": "band", "domain": ["title", "head", "max °C", "min°C", "average · °C"], "range": [0, 174], "paddingInner": 0, "paddingOuter": 0}, "axis": null}
      }
    },
    {
      "data": {"name": "stats"},
      "mark": {"type": "text", "font": "Noto Sans", "fontWeight": "bold", "fontSize": 22.5, "color": "#f4f4f4", "align": "center", "baseline": "middle"},
      "encoding": {
        "x": {"datum": "label", "type": "nominal", "scale": {"type": "band", "domain": ["label"], "range": [1689, 1841], "paddingInner": 0, "paddingOuter": 0}, "axis": null},
        "y": {"field": "stat", "type": "nominal", "scale": {"type": "band", "domain": ["title", "head", "max °C", "min°C", "average · °C"], "range": [0, 174], "paddingInner": 0, "paddingOuter": 0}, "axis": null},
        "text": {"field": "stat"}
      }
    },
    {
      "data": {"name": "stats"},
      "transform": [{"fold": ["T5", "T7", "T8", "T9"], "as": ["key", "value"]}],
      "mark": {"type": "rect", "fill": "#a2a2a2", "stroke": "#111111", "strokeWidth": 2},
      "encoding": {
        "x": {"field": "key", "type": "nominal", "scale": {"type": "band", "domain": ["T5", "T7", "T8", "T9"], "range": [1841, 2113], "paddingInner": 0, "paddingOuter": 0}, "axis": null},
        "y": {"field": "stat", "type": "nominal", "scale": {"type": "band", "domain": ["title", "head", "max °C", "min°C", "average · °C"], "range": [0, 174], "paddingInner": 0, "paddingOuter": 0}, "axis": null}
      }
    },
    {
      "data": {"name": "stats"},
      "transform": [{"fold": ["T5", "T7", "T8", "T9"], "as": ["key", "value"]}],
      "mark": {"type": "text", "font": "Noto Sans", "fontSize": 24, "color": "#f4f4f4", "align": "center", "baseline": "middle"},
      "encoding": {
        "x": {"field": "key", "type": "nominal", "scale": {"type": "band", "domain": ["T5", "T7", "T8", "T9"], "range": [1841, 2113], "paddingInner": 0, "paddingOuter": 0}, "axis": null},
        "y": {"field": "stat", "type": "nominal", "scale": {"type": "band", "domain": ["title", "head", "max °C", "min°C", "average · °C"], "range": [0, 174], "paddingInner": 0, "paddingOuter": 0}, "axis": null},
        "text": {"field": "value", "type": "quantitative", "format": ".1f"}
      }
    }
  ],
  "resolve": {"scale": {"x": "independent", "y": "independent", "color": "independent"}}
}
